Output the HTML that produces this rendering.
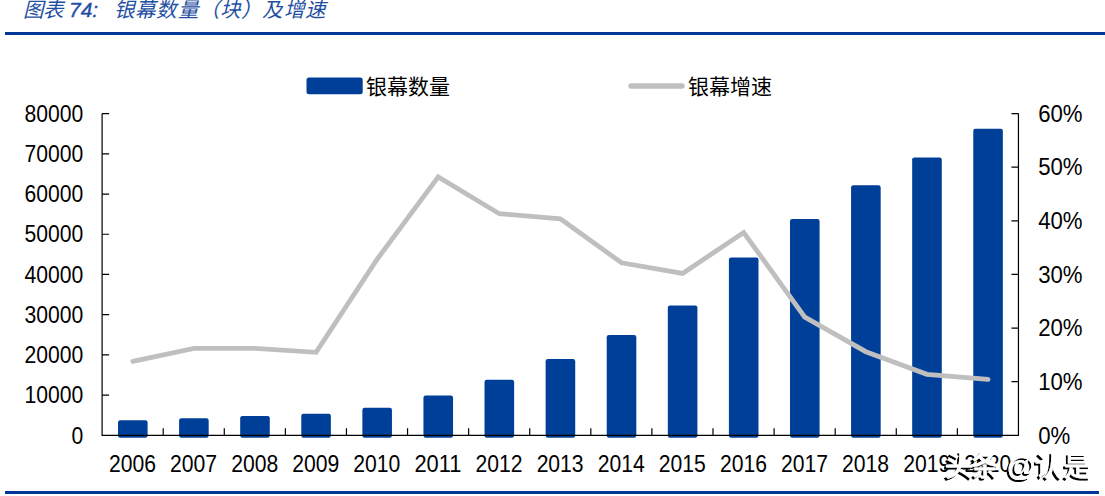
<!DOCTYPE html>
<html lang="zh-CN"><head><meta charset="utf-8">
<style>
html,body{margin:0;padding:0;background:#fff;width:1105px;height:496px;overflow:hidden;}
svg{display:block;position:absolute;left:0;top:0;}
.num{font-family:"Liberation Sans",sans-serif;font-size:23px;fill:#000;}
.cn{font-family:"Liberation Serif",serif;font-size:21px;font-weight:300;fill:#000;}
.title{font-family:"Liberation Sans",sans-serif;font-size:20.5px;font-weight:300;font-style:italic;fill:#1f4fa3;}
.tnum{font-size:21px;stroke:#1f4fa3;stroke-width:0.35px}
.wm{font-family:"Liberation Sans",sans-serif;font-size:27px;font-weight:bold;fill:#fff;}
</style></head>
<body>
<svg width="1105" height="496" viewBox="0 0 1105 496">
<defs><filter id="sh" x="-10%" y="-30%" width="120%" height="160%"><feOffset in="SourceAlpha" dx="-1.8" dy="2"/><feComponentTransfer><feFuncA type="linear" slope="1"/></feComponentTransfer><feMerge><feMergeNode/><feMergeNode in="SourceGraphic"/></feMerge></filter></defs>
<text class="title" y="17"><tspan x="22.5">图</tspan><tspan x="42.5">表</tspan><tspan x="69" class="tnum">74:</tspan><tspan x="114.0">银</tspan><tspan x="135.2">幕</tspan><tspan x="156.4">数</tspan><tspan x="177.6">量</tspan><tspan x="198.8">（</tspan><tspan x="220.0">块</tspan><tspan x="241.2">）</tspan><tspan x="262.4">及</tspan><tspan x="283.6">增</tspan><tspan x="304.8">速</tspan></text>
<rect x="5" y="32" width="1100" height="3" fill="#003896"/>
<rect x="306.5" y="77.6" width="56.2" height="16.6" rx="2.5" fill="#003f98"/>
<text class="cn" x="365.5" y="93.5">银幕数量</text>
<line x1="631" y1="86" x2="682" y2="86" stroke="#bfbfbf" stroke-width="5.4" stroke-linecap="round"/>
<text class="cn" x="688" y="93.5">银幕增速</text>
<rect x="118.00" y="420.30" width="29.60" height="17.40" rx="2.2" ry="2.2" fill="#003f98"/><rect x="179.09" y="418.30" width="29.60" height="19.40" rx="2.2" ry="2.2" fill="#003f98"/><rect x="240.18" y="416.00" width="29.60" height="21.70" rx="2.2" ry="2.2" fill="#003f98"/><rect x="301.27" y="413.70" width="29.60" height="24.00" rx="2.2" ry="2.2" fill="#003f98"/><rect x="362.36" y="407.70" width="29.60" height="30.00" rx="2.2" ry="2.2" fill="#003f98"/><rect x="423.45" y="395.50" width="29.60" height="42.20" rx="2.2" ry="2.2" fill="#003f98"/><rect x="484.54" y="379.70" width="29.60" height="58.00" rx="2.2" ry="2.2" fill="#003f98"/><rect x="545.63" y="359.00" width="29.60" height="78.70" rx="2.2" ry="2.2" fill="#003f98"/><rect x="606.72" y="335.00" width="29.60" height="102.70" rx="2.2" ry="2.2" fill="#003f98"/><rect x="667.81" y="305.50" width="29.60" height="132.20" rx="2.2" ry="2.2" fill="#003f98"/><rect x="728.90" y="257.50" width="29.60" height="180.20" rx="2.2" ry="2.2" fill="#003f98"/><rect x="789.99" y="219.00" width="29.60" height="218.70" rx="2.2" ry="2.2" fill="#003f98"/><rect x="851.08" y="185.30" width="29.60" height="252.40" rx="2.2" ry="2.2" fill="#003f98"/><rect x="912.17" y="157.40" width="29.60" height="280.30" rx="2.2" ry="2.2" fill="#003f98"/><rect x="973.26" y="128.80" width="29.60" height="308.90" rx="2.2" ry="2.2" fill="#003f98"/>
<path d="M102.10 113.60V435.30H1018.45V113.60 M102.10 113.60H109.10 M102.10 153.81H109.10 M102.10 194.03H109.10 M102.10 234.24H109.10 M102.10 274.45H109.10 M102.10 314.66H109.10 M102.10 354.88H109.10 M102.10 395.09H109.10 M102.10 435.30H109.10 M1011.45 113.60H1018.45 M1011.45 167.22H1018.45 M1011.45 220.83H1018.45 M1011.45 274.45H1018.45 M1011.45 328.07H1018.45 M1011.45 381.68H1018.45 M1011.45 435.30H1018.45 M163.19 428.30V435.30 M224.28 428.30V435.30 M285.37 428.30V435.30 M346.46 428.30V435.30 M407.55 428.30V435.30 M468.64 428.30V435.30 M529.73 428.30V435.30 M590.82 428.30V435.30 M651.91 428.30V435.30 M713.00 428.30V435.30 M774.09 428.30V435.30 M835.18 428.30V435.30 M896.27 428.30V435.30 M957.36 428.30V435.30" fill="none" stroke="#000" stroke-width="1.2"/>
<polyline points="132.80,361.30 193.89,348.30 254.98,348.30 316.07,352.30 377.16,259.20 438.25,176.90 499.34,213.70 560.43,218.80 621.52,262.80 682.61,273.40 743.70,232.50 804.79,317.10 865.88,351.70 926.97,374.30 988.06,379.40" fill="none" stroke="#bfbfbf" stroke-width="4.8" stroke-linejoin="miter" stroke-linecap="round"/>
<g class="num"><text x="24.55" y="121.80" textLength="58.75" lengthAdjust="spacingAndGlyphs">80000</text><text x="24.55" y="162.01" textLength="58.75" lengthAdjust="spacingAndGlyphs">70000</text><text x="24.55" y="202.22" textLength="58.75" lengthAdjust="spacingAndGlyphs">60000</text><text x="24.55" y="242.44" textLength="58.75" lengthAdjust="spacingAndGlyphs">50000</text><text x="24.55" y="282.65" textLength="58.75" lengthAdjust="spacingAndGlyphs">40000</text><text x="24.55" y="322.86" textLength="58.75" lengthAdjust="spacingAndGlyphs">30000</text><text x="24.55" y="363.07" textLength="58.75" lengthAdjust="spacingAndGlyphs">20000</text><text x="24.55" y="403.29" textLength="58.75" lengthAdjust="spacingAndGlyphs">10000</text><text x="71.55" y="443.50" textLength="11.75" lengthAdjust="spacingAndGlyphs">0</text><text x="1038.2" y="121.80" textLength="44.41" lengthAdjust="spacingAndGlyphs">60%</text><text x="1038.2" y="175.42" textLength="44.41" lengthAdjust="spacingAndGlyphs">50%</text><text x="1038.2" y="229.03" textLength="44.41" lengthAdjust="spacingAndGlyphs">40%</text><text x="1038.2" y="282.65" textLength="44.41" lengthAdjust="spacingAndGlyphs">30%</text><text x="1038.2" y="336.27" textLength="44.41" lengthAdjust="spacingAndGlyphs">20%</text><text x="1038.2" y="389.88" textLength="44.41" lengthAdjust="spacingAndGlyphs">10%</text><text x="1038.2" y="443.50" textLength="32.07" lengthAdjust="spacingAndGlyphs">0%</text><text x="109.00" y="471.90" textLength="47.00" lengthAdjust="spacingAndGlyphs">2006</text><text x="170.09" y="471.90" textLength="47.00" lengthAdjust="spacingAndGlyphs">2007</text><text x="231.18" y="471.90" textLength="47.00" lengthAdjust="spacingAndGlyphs">2008</text><text x="292.27" y="471.90" textLength="47.00" lengthAdjust="spacingAndGlyphs">2009</text><text x="353.36" y="471.90" textLength="47.00" lengthAdjust="spacingAndGlyphs">2010</text><text x="414.45" y="471.90" textLength="47.00" lengthAdjust="spacingAndGlyphs">2011</text><text x="475.54" y="471.90" textLength="47.00" lengthAdjust="spacingAndGlyphs">2012</text><text x="536.63" y="471.90" textLength="47.00" lengthAdjust="spacingAndGlyphs">2013</text><text x="597.72" y="471.90" textLength="47.00" lengthAdjust="spacingAndGlyphs">2014</text><text x="658.81" y="471.90" textLength="47.00" lengthAdjust="spacingAndGlyphs">2015</text><text x="719.90" y="471.90" textLength="47.00" lengthAdjust="spacingAndGlyphs">2016</text><text x="780.99" y="471.90" textLength="47.00" lengthAdjust="spacingAndGlyphs">2017</text><text x="842.08" y="471.90" textLength="47.00" lengthAdjust="spacingAndGlyphs">2018</text><text x="903.17" y="471.90" textLength="47.00" lengthAdjust="spacingAndGlyphs">2019</text><text x="964.26" y="471.90" textLength="47.00" lengthAdjust="spacingAndGlyphs">2020</text></g>
<rect x="5" y="491" width="1094" height="3" fill="#003896"/>
<g filter="url(#sh)"><text class="wm" y="476"><tspan x="945" style="font-size:28px">头</tspan><tspan x="970.5" style="font-size:28px">条</tspan><tspan x="1007" style="font-size:29px">@</tspan><tspan x="1035">认</tspan><tspan x="1064">是</tspan></text></g>
</svg>
</body></html>
